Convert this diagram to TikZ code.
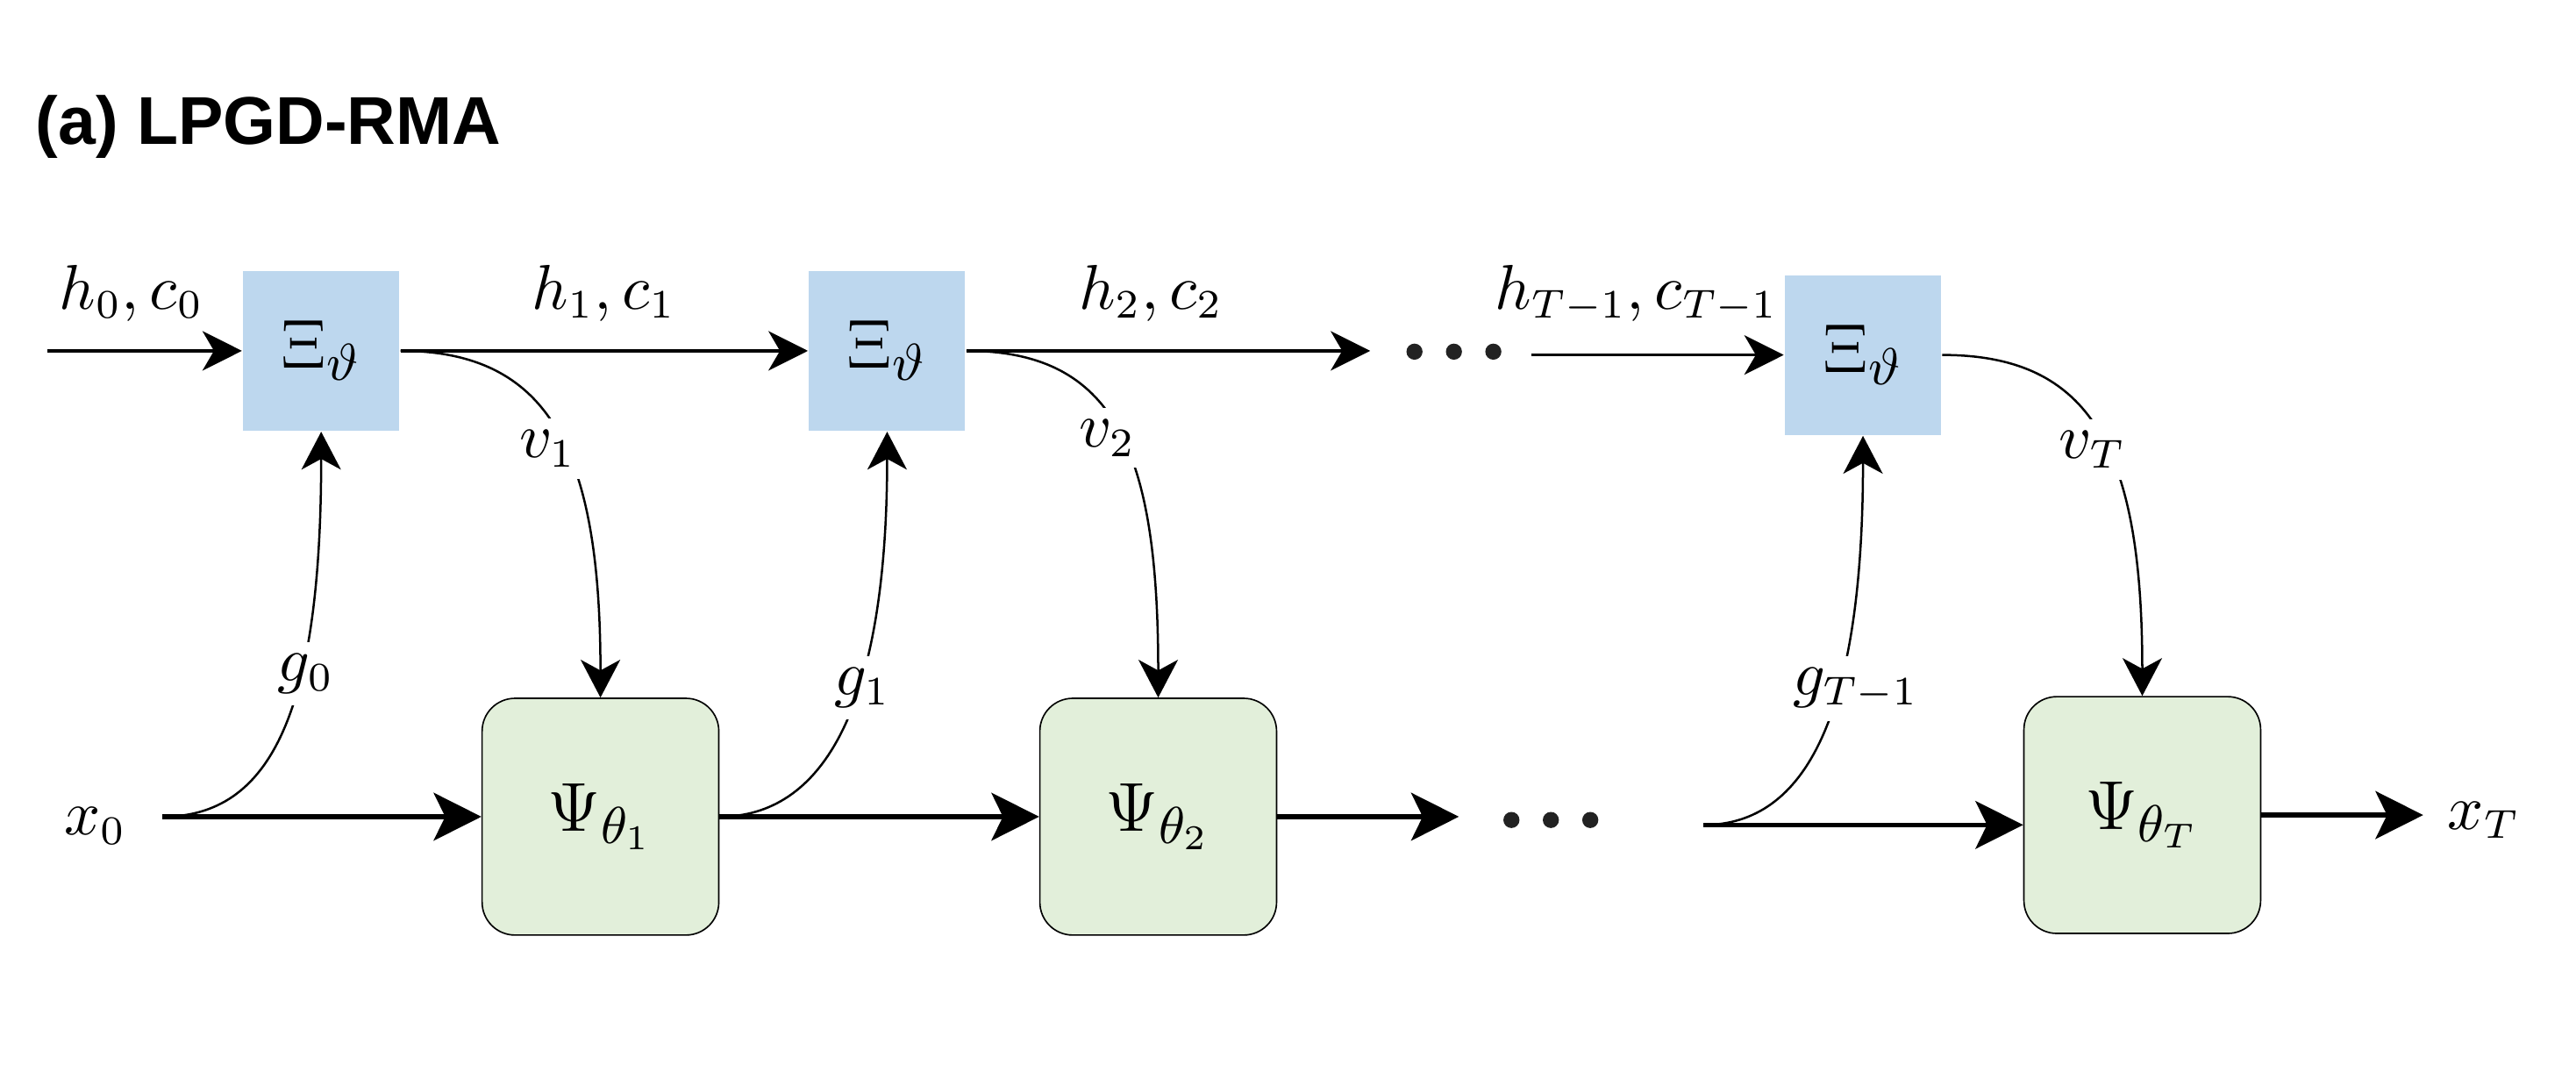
\documentclass[tikz,border=0pt]{standalone}
\usepackage{fontspec}
\newfontfamily\titlefont{Liberation Sans}
\usetikzlibrary{arrows.meta}
\definecolor{xiblue}{HTML}{BDD7EE}
\definecolor{psigreen}{HTML}{E2EFDA}
\definecolor{dotgray}{HTML}{222222}
\begin{document}
\begin{tikzpicture}[x=0.01cm,y=-0.01cm,
  xibox/.style={fill=xiblue, draw=none, minimum width=0.95cm, minimum height=0.97cm, inner sep=0pt, font=\fontsize{12.8}{14}\selectfont},
  psibox/.style={fill=psigreen, draw=black, line width=0.25pt, rounded corners=0.2cm, minimum width=1.44cm, minimum height=1.44cm, inner sep=0pt, font=\fontsize{12.8}{14}\selectfont},
  lbl/.style={font=\fontsize{10.7}{12}\selectfont, inner sep=1pt},
  glbl/.style={lbl, fill=white, inner sep=2pt},
  toparrow/.style={line width=0.5pt, -{Stealth[length=0.24cm, width=0.24cm, inset=0.07cm]}},
  botarrow/.style={line width=0.85pt, -{Stealth[length=0.29cm, width=0.29cm, inset=0.07cm]}},
  curvearrow/.style={line width=0.38pt, -{Stealth[length=0.23cm, width=0.24cm, inset=0.065cm]}}
]
\useasboundingbox (0,0) rectangle (1568,647.6);

% title
\node[anchor=base west, inner sep=0pt, font=\fontsize{11.7}{14}\selectfont\titlefont\bfseries] (title) at (21,88) {(a) LPGD-RMA};

% boxes
\node[xibox] (xi1) at (195.5,213.5) {$\Xi_\vartheta$};
\node[xibox] (xi2) at (540,213.5) {$\Xi_\vartheta$};
\node[xibox] (xi3) at (1134,216) {$\Xi_\vartheta$};
\node[psibox] (psi1) at (365.5,497) {$\Psi_{\theta_1}$};
\node[psibox] (psi2) at (705,497) {$\Psi_{\theta_2}$};
\node[psibox] (psi3) at (1304,496) {$\Psi_{\theta_T}$};

% plain labels
\node[lbl, anchor=base] (lh0) at (80,188) {$h_0, c_0$};
\node[lbl, anchor=base] (lh1) at (367.5,188) {$h_1, c_1$};
\node[lbl, anchor=base] (lh2) at (700.5,188) {$h_2, c_2$};
\node[lbl, anchor=base] (lhT) at (996,188) {$h_{T-1}, c_{T-1}$};
\node[lbl, anchor=base] (x0) at (58,508) {$x_0$};
\node[lbl, anchor=base] (xT) at (1512,504.5) {$x_T$};

% free ends
\coordinate (hin) at (29,213.5);
\coordinate (hout2) at (834,213.5);
\coordinate (hinT) at (932,216);
\coordinate (xs0) at (99,497);
\coordinate (xo2) at (888,497);
\coordinate (xsT) at (1037,502);
\coordinate (xoT) at (1475,496);

% top chain
\draw[toparrow] (hin) -- (xi1.west);
\draw[toparrow] (xi1.east) -- (xi2.west);
\draw[toparrow] (xi2.east) -- (hout2);
\draw[toparrow] (hinT) -- (xi3.west);

% bottom chain
\draw[botarrow] (xs0) -- (psi1.west);
\draw[botarrow] (psi1.east) -- (psi2.west);
\draw[botarrow] (psi2.east) -- (xo2);
\draw[botarrow] (xsT) -- (xsT -| psi3.west);
\draw[botarrow] (psi3.east) -- (xoT);

% gradient curves
\draw[curvearrow] (xs0) .. controls +(66,0) and +(0,170) .. node[glbl, pos=0.63, xshift=0.035cm] (g0) {$g_0$} (xi1.south);
\draw[curvearrow] (psi1.east) .. controls +(62,0) and +(0,170) .. node[glbl, pos=0.6, xshift=0.03cm] (g1) {$g_1$} (xi2.south);
\draw[curvearrow] (xsT) .. controls +(62,0) and +(0,170) .. node[glbl, pos=0.61, xshift=0.11cm] (gT) {$g_{T-1}$} (xi3.south);

% update curves
\draw[curvearrow] (xi1.east) .. controls +(90,0) and +(0,-151) .. node[glbl, pos=0.55, xshift=-0.105cm] (v1) {$v_1$} (psi1.north);
\draw[curvearrow] (xi2.east) .. controls +(90,0) and +(0,-151) .. node[glbl, pos=0.52, xshift=-0.085cm] (v2) {$v_2$} (psi2.north);
\draw[curvearrow] (xi3.east) .. controls +(90,0) and +(0,-151) .. node[glbl, pos=0.55, xshift=-0.087cm] (vT) {$v_T$} (psi3.north);

% ellipses
\foreach \x in {861,885,909} \fill[dotgray] (\x,214) circle[radius=0.049cm];
\foreach \x in {920,944,968} \fill[dotgray] (\x,499) circle[radius=0.049cm];
\end{tikzpicture}
\end{document}
